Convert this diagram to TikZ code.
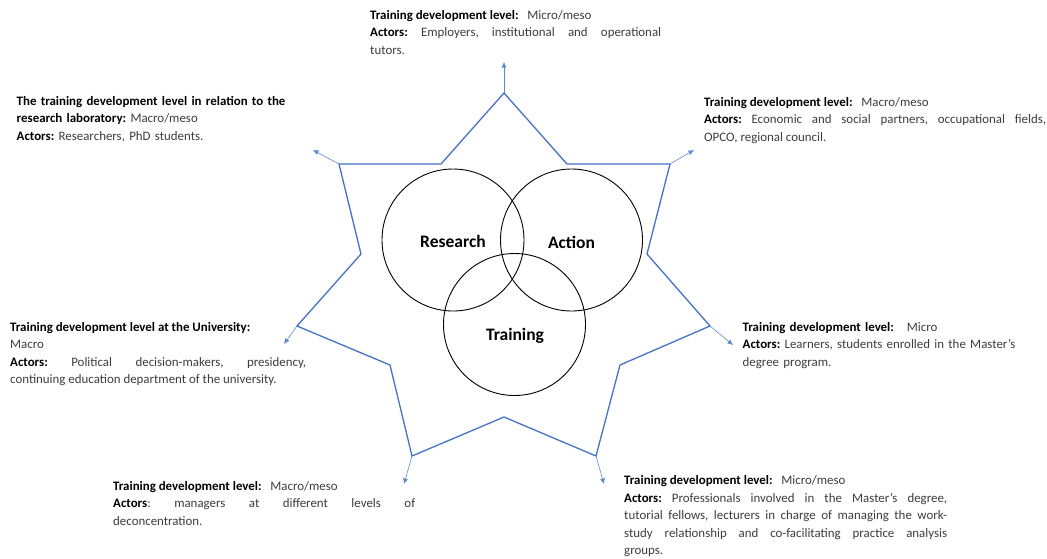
\documentclass[tikz,border=0pt]{standalone}
\usepackage{fontspec}
\setmainfont{Carlito}
\usetikzlibrary{arrows.meta}
\definecolor{starblue}{RGB}{68,114,196}
\definecolor{arrowblue}{RGB}{91,138,210}
\definecolor{textgray}{RGB}{60,60,60}
\newcommand{\hd}[1]{\textbf{\color{black}#1}}
\tikzset{
  starline/.style={draw=starblue, line width=1.3pt},
  outarrow/.style={draw=arrowblue, line width=0.6pt, -{Latex[length=5.5pt,width=5pt]}},
  ring/.style={draw, circle, line width=0.9pt, minimum size=142pt, inner sep=0pt},
  ringlabel/.style={font=\fontsize{17.5}{20}\selectfont\bfseries, inner sep=0pt},
  info/.style={anchor=base west, inner sep=0pt, text=textgray, font=\fontsize{12.9}{17.5}\selectfont\frenchspacing},
  justinfo/.style={info, align=justify},
  leftinfo/.style={info, align=left}
}
\begin{document}
\begin{tikzpicture}[x=1pt, y=-1pt]
        \useasboundingbox (0, 0) rectangle (1047, 558);

        \coordinate (S1) at (504, 93);
        \coordinate (S2) at (567, 164);
        \coordinate (S3) at (670, 164);
        \coordinate (S4) at (647, 254);
        \coordinate (S5) at (710, 326);
        \coordinate (S6) at (620, 365);
        \coordinate (S7) at (596, 456);
        \coordinate (S8) at (504, 417);
        \coordinate (S9) at (412, 456);
        \coordinate (S10) at (390, 365);
        \coordinate (S11) at (297, 326);
        \coordinate (S12) at (361, 254);
        \coordinate (S13) at (339, 164);
        \coordinate (S14) at (441, 164);

        \draw [starline] (S1) -- (S2) -- (S3) -- (S4) -- (S5) -- (S6) -- (S7) -- (S8)
            -- (S9) -- (S10) -- (S11) -- (S12) -- (S13) -- (S14) -- cycle;

        \coordinate (E1) at (504, 62);
        \coordinate (E3) at (694, 150);
        \coordinate (E5) at (733, 345);
        \coordinate (E7) at (604, 484);
        \coordinate (E9) at (404, 484);
        \coordinate (E11) at (284, 344);
        \coordinate (E13) at (313, 150);

        \draw [outarrow] (S1) -- (E1);
        \draw [outarrow] (S3) -- (E3);
        \draw [outarrow] (S5) -- (E5);
        \draw [outarrow] (S7) -- (E7);
        \draw [outarrow] (S9) -- (E9);
        \draw [outarrow] (S11) -- (E11);
        \draw [outarrow] (S13) -- (E13);

        \node [ring] (research) at (453, 240) {};
        \node [ring] (action) at (571.5, 240) {};
        \node [ring] (training) at (514.5, 324.5) {};

        \node [ringlabel] (researchtext) at (453, 241.5) {Research};
        \node [ringlabel] (actiontext) at (571.5, 242) {Action};
        \node [ringlabel] (trainingtext) at (515, 336) {Training};

        \node [justinfo, text width=291pt] (L1) at (370, 19)
            {\hd{Training development level:}~~ Micro/meso\\
             \hd{Actors:} Employers, institutional and operational\linebreak tutors.};
        \node [leftinfo, text width=290pt] (L2) at (16.5, 105)
            {\hd{The training development level in relation to the}\\
             \hd{research laboratory:} Macro/meso\\
             \hd{Actors:} Researchers, PhD students.};
        \node [justinfo, text width=342pt] (L3) at (704, 106)
            {\hd{Training development level:}~~ Macro/meso\\
             \hd{Actors:} Economic and social partners, occupational fields,\linebreak OPCO, regional council.};
        \node [justinfo, text width=296pt] (L4) at (10, 331)
            {\hd{Training development level at the University:}\\
             Macro\\
             \hd{Actors:} Political decision-makers, presidency,\linebreak continuing education department of the university.};
        \node [leftinfo, text width=300pt] (L5) at (742.5, 331)
            {\hd{Training development level:}~~ Micro\\
             \hd{Actors:} Learners, students enrolled in the Master’s\\
             degree program.};
        \node [justinfo, text width=302pt] (L6) at (113, 490)
            {\hd{Training development level:}~~ Macro/meso\\
             \hd{Actors}: managers at different levels of\linebreak deconcentration.};
        \node [justinfo, text width=323pt] (L7) at (624, 484.5)
            {\hd{Training development level:}~~ Micro/meso\\
             \hd{Actors:} Professionals involved in the Master's degree,\linebreak
             tutorial fellows, lecturers in charge of managing the work-\linebreak
             study relationship and co-facilitating practice analysis\linebreak groups.};
\end{tikzpicture}
\end{document}
